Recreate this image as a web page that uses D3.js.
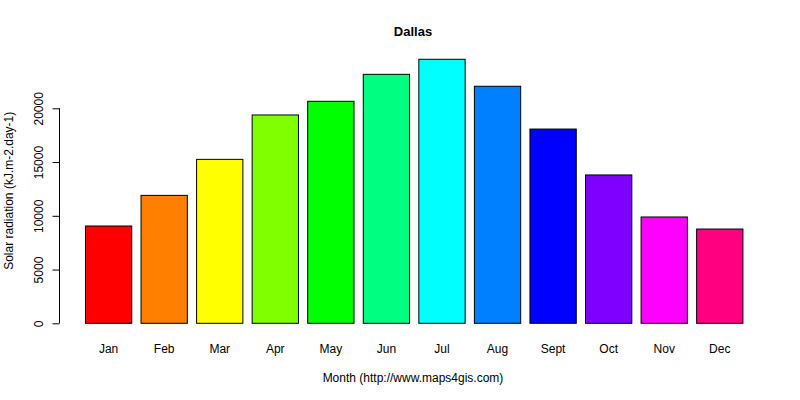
<!DOCTYPE html>
<html>
<head>
<meta charset="utf-8">
<script src="https://cdn.jsdelivr.net/npm/d3@7"></script>
<style>
  body { margin: 0; background: #fff; }
  text { font-family: "Liberation Sans", Arial, sans-serif; }
</style>
</head>
<body>
<div id="chart"></div>
<script>
const months = ["Jan", "Feb", "Mar", "Apr", "May", "Jun", "Jul", "Aug", "Sept", "Oct", "Nov", "Dec"];
const radiation = [9050, 11900, 15250, 19380, 20650, 23160, 24560, 22050, 18070, 13800, 9890, 8770];
const colors = ["#FF0000", "#FF8000", "#FFFF00", "#80FF00", "#00FF00", "#00FF80",
                "#00FFFF", "#0080FF", "#0000FF", "#8000FF", "#FF00FF", "#FF0080"];
const yTicks = [0, 5000, 10000, 15000, 20000];

const width = 800, height = 400;

const svg = d3.select("#chart")
  .append("svg")
  .attr("width", width)
  .attr("height", height);

// band scale mimicking R barplot (width 1, space 0.2)
const x = d3.scaleBand()
  .domain(months)
  .range([76.2, 752.2])
  .paddingInner(1 / 6)
  .paddingOuter(1 / 6);

const y = d3.scaleLinear().domain([0, 20000]).range([323.3, 108.3]);

// bars
svg.selectAll("rect.bar")
  .data(months)
  .enter()
  .append("rect")
  .attr("class", "bar")
  .attr("x", (d) => x(d))
  .attr("y", (d, i) => y(radiation[i]))
  .attr("width", x.bandwidth())
  .attr("height", (d, i) => y(0) - y(radiation[i]))
  .attr("fill", (d, i) => colors[i])
  .attr("stroke", "#000")
  .attr("stroke-width", 1);

// y axis
const yAxis = svg.append("g")
  .attr("transform", "translate(59.5,0)")
  .call(d3.axisLeft(y).tickValues(yTicks).tickSize(7).tickPadding(0).tickFormat(d3.format("d")));
yAxis.select(".domain").attr("stroke", "#000").attr("d", `M-7,${y(0)}H0V${y(20000)}H-7`);
yAxis.selectAll(".domain").attr("d", `M0,${y(0)}V${y(20000)}`);
yAxis.selectAll(".tick line").attr("stroke", "#000");
yAxis.selectAll(".tick text")
  .attr("font-size", 12)
  .attr("fill", "#000")
  .attr("x", 0)
  .attr("dy", 0)
  .attr("text-anchor", "middle")
  .attr("transform", "translate(-17,0) rotate(-90)");

// month labels
svg.selectAll("text.month")
  .data(months)
  .enter()
  .append("text")
  .attr("class", "month")
  .attr("x", (d) => x(d) + x.bandwidth() / 2)
  .attr("y", 353)
  .attr("text-anchor", "middle")
  .attr("font-size", 12)
  .text((d) => d);

// titles
svg.append("text")
  .attr("x", 413)
  .attr("y", 36)
  .attr("text-anchor", "middle")
  .attr("font-size", 13)
  .attr("font-weight", "bold")
  .text("Dallas");

svg.append("text")
  .attr("x", 413)
  .attr("y", 382)
  .attr("text-anchor", "middle")
  .attr("font-size", 12)
  .text("Month (http://www.maps4gis.com)");

svg.append("text")
  .attr("transform", `translate(13,${(y(0) + y(20000)) / 2 - 25}) rotate(-90)`)
  .attr("text-anchor", "middle")
  .attr("font-size", 12)
  .text("Solar radiation (kJ.m-2.day-1)");
</script>
</body>
</html>
